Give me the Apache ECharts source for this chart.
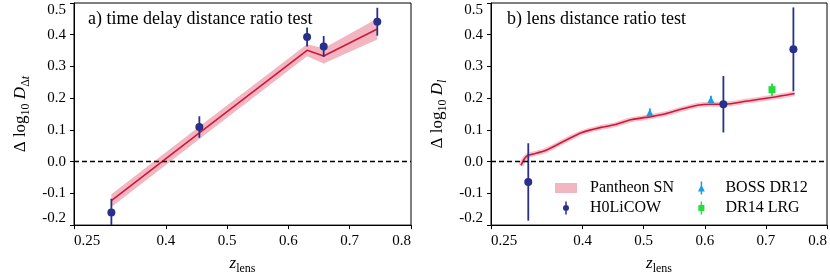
<!DOCTYPE html>
<html><head><meta charset="utf-8">
<script src="https://cdn.jsdelivr.net/npm/echarts@6/dist/echarts.min.js"></script>
<style>html,body{margin:0;padding:0;background:#fff}#c{width:830px;height:280px}</style>
</head><body><div id="c"></div>
<script>
// ---------- data ----------
const xTicks = [0.25, 0.4, 0.5, 0.6, 0.7, 0.8];
const xTickLabels = ['0.25', '0.4', '0.5', '0.6', '0.7', '0.8'];
const yTickLabels = ['-0.2', '-0.1', '0.0', '0.1', '0.2', '0.3', '0.4', '0.5'];

// panel a) time delay distance ratio
const tdZ = [0.311, 0.4546, 0.6304, 0.6575, 0.745];
const tdVal = [-0.160, 0.109, 0.393, 0.363, 0.441];
const tdErr = [0.043, 0.034, 0.030, 0.033, 0.044];
const tdFitZ = [0.311, 0.4546, 0.6304, 0.6575, 0.745];
const tdFit = [-0.123, 0.091, 0.351, 0.333, 0.418];
const tdFitErr = [0.020, 0.020, 0.019, 0.024, 0.033];

// panel b) lens distance ratio
const ldZ = [0.311, 0.6304, 0.745];
const ldVal = [-0.064, 0.181, 0.354];
const ldErr = [0.122, 0.089, 0.132];
const bossZ = [0.51, 0.61];
const bossVal = [0.155, 0.196];
const bossErr = [0.013, 0.012];
const lrgZ = [0.71];
const lrgVal = [0.227];
const lrgErr = [0.019];
const ldFitZ = [0.299, 0.305, 0.311, 0.338, 0.370, 0.398, 0.430, 0.452, 0.479, 0.512, 0.534, 0.561, 0.588, 0.610, 0.632, 0.670, 0.709, 0.747];
const ldFit = [-0.012, 0.010, 0.020, 0.034, 0.065, 0.091, 0.108, 0.116, 0.132, 0.142, 0.150, 0.165, 0.178, 0.181, 0.181, 0.191, 0.202, 0.215];

// ---------- styles ----------
const F = 'Liberation Serif';
const NAVY = '#28308a', RED = '#d4143c', PINK = '#f1b6bf', BLUE = '#1a9fdc', GREEN = '#22dd3c';

const zip = (a, b) => a.map((v, i) => [v, b[i]]);
const zip3 = (a, b, c) => a.map((v, i) => [v, b[i], c[i]]);

function errSeries(name, xi, z, v, e, color) {
  return {
    type: 'custom', name: name, xAxisIndex: xi, yAxisIndex: xi, clip: true, z: 3,
    data: zip3(z, v, e), encode: { x: 0, y: 1 }, silent: true,
    renderItem: (params, api) => {
      const x = api.value(0), y = api.value(1), er = api.value(2);
      const p1 = api.coord([x, y - er]), p2 = api.coord([x, y + er]);
      return { type: 'line', shape: { x1: p1[0], y1: p1[1], x2: p2[0], y2: p2[1] },
        style: { stroke: color, lineWidth: 1.8 } };
    }
  };
}

const zeroLine = {
  silent: true, symbol: 'none', label: { show: false }, animation: false,
  lineStyle: { type: [5, 3], color: '#000', width: 1.3 },
  data: [{ yAxis: 0 }]
};

function xAxis(i) {
  return {
    type: 'value', gridIndex: i, min: 0.25, max: 0.8,
    axisLine: { show: true, onZero: false, lineStyle: { color: '#000', width: 1 } },
    axisTick: { show: true, inside: false, length: 4, lineStyle: { color: '#000' }, customValues: xTicks },
    axisLabel: {
      customValues: xTicks, margin: 8, color: '#000', fontFamily: F, fontSize: 15,
      alignMinLabel: 'left', alignMaxLabel: 'right',
      formatter: v => { const k = xTicks.findIndex(t => Math.abs(t - v) < 1e-6); return k >= 0 ? xTickLabels[k] : ''; }
    },
    splitLine: { show: false },
    name: '{i|z}{s|lens}', nameLocation: 'middle', nameGap: 25,
    nameTextStyle: {
      color: '#000', fontFamily: F, fontSize: 16, lineHeight: 22,
      rich: {
        i: { fontFamily: F, fontSize: 17, fontStyle: 'italic', lineHeight: 22, verticalAlign: 'middle', color: '#000' },
        s: { fontFamily: F, fontSize: 12, verticalAlign: 'bottom', color: '#000' }
      }
    }
  };
}

function yAxis(i, name) {
  return {
    type: 'value', gridIndex: i, min: -0.2, max: 0.5, interval: 0.1,
    axisLine: { show: true, onZero: false, lineStyle: { color: '#000', width: 1 } },
    axisTick: { show: true, inside: false, length: 4, lineStyle: { color: '#000' } },
    axisLabel: {
      margin: 8, color: '#000', fontFamily: F, fontSize: 15,
      verticalAlignMinLabel: 'bottom', verticalAlignMaxLabel: 'top',
      formatter: v => { const k = Math.round((v + 0.2) * 10); return yTickLabels[k] || ''; }
    },
    splitLine: { show: false },
    name: name, nameLocation: 'middle', nameGap: 42, nameRotate: 90,
    nameTextStyle: {
      color: '#000', fontFamily: F, fontSize: 16, lineHeight: 22,
      rich: {
        r: { fontFamily: F, fontSize: 17, lineHeight: 22, verticalAlign: 'middle', color: '#000' },
        i: { fontFamily: F, fontSize: 17, fontStyle: 'italic', lineHeight: 22, verticalAlign: 'middle', color: '#000' },
        s: { fontFamily: F, fontSize: 12, verticalAlign: 'bottom', color: '#000' },
        si: { fontFamily: F, fontSize: 12, fontStyle: 'italic', verticalAlign: 'bottom', color: '#000' }
      }
    }
  };
}

const iconCircle = 'path://M2.25,0 H3.75 V13 H2.25 Z M0,6.5 A3,3 0 1,1 6,6.5 A3,3 0 1,1 0,6.5 Z';
const iconTri = 'path://M2.25,0 H3.75 V13 H2.25 Z M3,3 L6.4,10 L-0.4,10 Z';
const iconSq = 'path://M2.25,0 H3.75 V13 H2.25 Z M0,3.5 H6 V9.5 H0 Z';
const iconRect = 'path://M0,0 H22 V10 H0 Z';

const legendBase = {
  orient: 'vertical', top: 180, padding: 0, itemWidth: 22, itemHeight: 13, itemGap: 4,
  selectedMode: false, symbolKeepAspect: true,
  textStyle: { fontFamily: F, fontSize: 16, lineHeight: 16, color: '#000', padding: [0, 0, 0, 8] }
};

const titleStyle = { fontFamily: F, fontSize: 18, fontWeight: 'normal', color: '#000' };

const option = {
  animation: false,
  backgroundColor: '#fff',
  title: [
    { text: 'a) time delay distance ratio test', left: 88, top: 10, padding: 0, textStyle: titleStyle },
    { text: 'b) lens distance ratio test', left: 507, top: 10, padding: 0, textStyle: titleStyle }
  ],
  legend: [
    Object.assign({}, legendBase, { left: 555, data: [
      { name: 'Pantheon SN', icon: iconRect, itemStyle: { color: PINK } },
      { name: 'H0LiCOW', icon: iconCircle, itemStyle: { color: NAVY } }
    ] }),
    Object.assign({}, legendBase, { left: 698, data: [
      { name: 'BOSS DR12', icon: iconTri, itemStyle: { color: BLUE } },
      { name: 'DR14 LRG', icon: iconSq, itemStyle: { color: GREEN } }
    ] })
  ],
  grid: [
    { left: 74, top: 3, width: 337, height: 226, show: true, borderColor: '#000', borderWidth: 1 },
    { left: 491, top: 3, width: 336, height: 226, show: true, borderColor: '#000', borderWidth: 1 }
  ],
  xAxis: [xAxis(0), xAxis(1)],
  yAxis: [
    yAxis(0, '{r|Δ log}{s|10}{r| }{i|D}{s|Δ}{si|t}'),
    yAxis(1, '{r|Δ log}{s|10}{r| }{i|D}{si|l}')
  ],
  series: [
    // ---- panel a ----
    {
      type: 'custom', name: 'Pantheon SN', xAxisIndex: 0, yAxisIndex: 0, clip: true, z: 1,
      itemStyle: { color: PINK }, silent: true,
      data: zip(tdFitZ, tdFit), encode: { x: 0, y: 1 },
      renderItem: (params, api) => {
        if (params.dataIndex !== 0) return null;
        const pts = [];
        for (let i = 0; i < tdFitZ.length; i++) pts.push(api.coord([tdFitZ[i], tdFit[i] + tdFitErr[i]]));
        for (let i = tdFitZ.length - 1; i >= 0; i--) pts.push(api.coord([tdFitZ[i], tdFit[i] - tdFitErr[i]]));
        return { type: 'polygon', shape: { points: pts }, style: { fill: PINK } };
      }
    },
    {
      type: 'line', name: 'fit a', xAxisIndex: 0, yAxisIndex: 0, z: 2, silent: true,
      data: zip(tdFitZ, tdFit), symbol: 'none', lineStyle: { color: RED, width: 1.6 },
      markLine: zeroLine
    },
    errSeries('err a', 0, tdZ, tdVal, tdErr, NAVY),
    {
      type: 'scatter', name: 'H0LiCOW', xAxisIndex: 0, yAxisIndex: 0, z: 4, silent: true,
      data: zip(tdZ, tdVal), symbol: 'circle', symbolSize: 8, itemStyle: { color: NAVY, opacity: 1 }
    },
    // ---- panel b ----
    {
      type: 'line', name: 'Pantheon SN', xAxisIndex: 1, yAxisIndex: 1, z: 1, silent: true,
      data: zip(ldFitZ, ldFit), symbol: 'none', smooth: 0.25,
      itemStyle: { color: PINK }, lineStyle: { color: PINK, width: 5, opacity: 0.8 }
    },
    {
      type: 'line', name: 'fit b', xAxisIndex: 1, yAxisIndex: 1, z: 2, silent: true,
      data: zip(ldFitZ, ldFit), symbol: 'none', smooth: 0.25, lineStyle: { color: RED, width: 1.6 },
      markLine: zeroLine
    },
    errSeries('err b', 1, ldZ, ldVal, ldErr, NAVY),
    {
      type: 'scatter', name: 'H0LiCOW', xAxisIndex: 1, yAxisIndex: 1, z: 4, silent: true,
      data: zip(ldZ, ldVal), symbol: 'circle', symbolSize: 8, itemStyle: { color: NAVY, opacity: 1 }
    },
    errSeries('err boss', 1, bossZ, bossVal, bossErr, BLUE),
    {
      type: 'scatter', name: 'BOSS DR12', xAxisIndex: 1, yAxisIndex: 1, z: 4, silent: true,
      data: zip(bossZ, bossVal), symbol: 'triangle', symbolSize: 7, itemStyle: { color: BLUE, opacity: 1 }
    },
    errSeries('err lrg', 1, lrgZ, lrgVal, lrgErr, GREEN),
    {
      type: 'scatter', name: 'DR14 LRG', xAxisIndex: 1, yAxisIndex: 1, z: 4, silent: true,
      data: zip(lrgZ, lrgVal), symbol: 'rect', symbolSize: 7, itemStyle: { color: GREEN, opacity: 1 }
    }
  ]
};

const chart = echarts.init(document.getElementById('c'), null, { renderer: 'canvas' });
chart.setOption(option);
</script></body></html>
